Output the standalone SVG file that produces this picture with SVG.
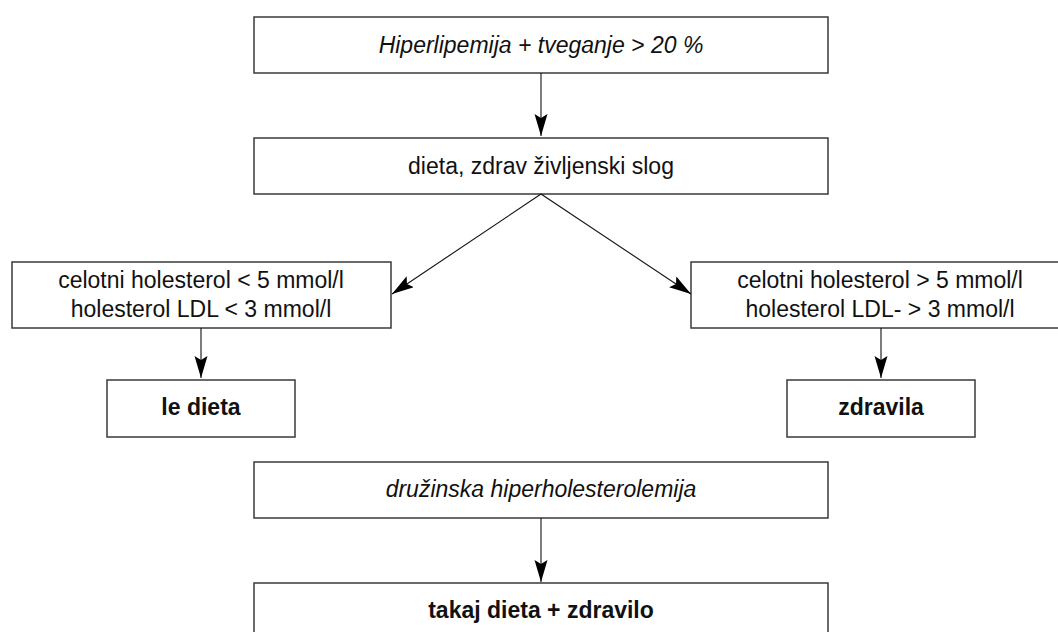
<svg xmlns="http://www.w3.org/2000/svg" width="1058" height="632" viewBox="0 0 1058 632">
<style>
.box{fill:#fff;stroke:#3a3a3a;stroke-width:1.5}
.t{font-family:"Liberation Sans",Arial,sans-serif;font-size:23px;fill:#111;text-anchor:middle}
.i{font-style:italic}
.b{font-weight:bold}
.c{stroke:#111;stroke-width:1.1;fill:none;marker-end:url(#ah)}
</style>
<defs>
<marker id="ah" markerWidth="24" markerHeight="14" refX="22" refY="6.5" orient="auto" markerUnits="userSpaceOnUse">
<path d="M0,0 L22,6.5 L0,13 L4,6.5 Z" fill="#000"/>
</marker>
</defs>
<rect width="1058" height="632" fill="#fff"/>
<g id="n1"><rect class="box" x="254" y="17" width="574" height="56"/><text class="t i" x="541" y="53">Hiperlipemija + tveganje &gt; 20 %</text></g>
<g id="n2"><rect class="box" x="254" y="138" width="574" height="56"/><text class="t" x="541" y="174">dieta, zdrav življenski slog</text></g>
<g id="n3"><rect class="box" x="12" y="262" width="379" height="66"/><text class="t" x="201" y="288">celotni holesterol &lt; 5 mmol/l</text><text class="t" x="201" y="317">holesterol LDL &lt; 3 mmol/l</text></g>
<g id="n4"><rect class="box" x="691" y="262" width="379" height="66"/><text class="t" x="880" y="288">celotni holesterol &gt; 5 mmol/l</text><text class="t" x="880" y="317">holesterol LDL- &gt; 3 mmol/l</text></g>
<g id="n5"><rect class="box" x="107" y="380" width="188" height="57"/><text class="t b" x="201" y="415">le dieta</text></g>
<g id="n6"><rect class="box" x="787" y="380" width="188" height="57"/><text class="t b" x="881" y="415">zdravila</text></g>
<g id="n7"><rect class="box" x="254" y="462" width="574" height="56"/><text class="t i" x="541" y="497">družinska hiperholesterolemija</text></g>
<g id="n8"><rect class="box" x="254" y="583" width="574" height="70"/><text class="t b" x="541" y="618">takaj dieta + zdravilo</text></g>
<g id="connectors">
<line class="c" x1="541" y1="73" x2="541" y2="136"/>
<line class="c" x1="541" y1="194" x2="392" y2="294"/>
<line class="c" x1="541" y1="194" x2="691" y2="294"/>
<line class="c" x1="201" y1="328" x2="201" y2="378"/>
<line class="c" x1="881" y1="328" x2="881" y2="378"/>
<line class="c" x1="541" y1="518" x2="541" y2="582"/>
</g>
</svg>
